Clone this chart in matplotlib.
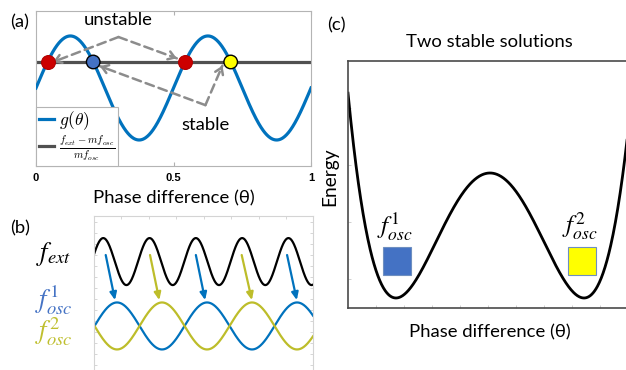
import numpy as np
import matplotlib
matplotlib.use('Agg')
import matplotlib.pyplot as plt
from matplotlib.font_manager import FontProperties
from matplotlib.lines import Line2D

W, H = 626, 370
TXT = ['Lato', 'DejaVu Sans']
plt.rcParams['font.family'] = TXT
FS = 13.3

# ---------------- panel (a) data ----------------
g_amplitude = 1.0
g_cycles = 2                      # periods of g(theta) over [0, 1]
detuning_level = 0.5              # (f_ext - m f_osc) / (m f_osc)
xticks_a = [0, 0.5, 1]
xticklabels_a = ['0', '0.5', '1']
unstable_theta = [0.042, 0.542]
stable_theta = [0.208, 0.708]
stable_colors = ['#4472C4', '#FFFF00']
unstable_color = '#CC0000'
unstable_apex = [0.30, 0.98]
unstable_tips = [[0.062, 0.50], [0.512, 0.57]]
stable_apex = [0.616, -0.33]
stable_tips = [[0.232, 0.42], [0.678, 0.43]]

# ---------------- panel (b) data ----------------
b_xmax = 4.73
ext_period = 1.0
ext_first_peak = 0.20
osc_period = 1.944
osc_first_peak = 0.497
osc_offset = -2.74
arrow_start_x = [0.253, 1.21, 2.20, 3.19, 4.17]
arrow_end_x = [0.454, 1.41, 2.40, 3.41, 4.38]
arrow_start_y = 0.28
arrow_end_y = -1.64
arrow_series = [1, 2, 1, 2, 1]

# ---------------- panel (c) data ----------------
well_position = 1.0
barrier_height = 1.0
energy_u_range = [-1.51, 1.50]
square_u = [-0.99, 0.975]
square_E = [0.296, 0.296]
square_colors = ['#4472C4', '#FFFF00']
square_labels = [r'$f_{osc}^{1}$', r'$f_{osc}^{2}$']

BLUE = '#0072BD'
OLIVE = '#BDBD2A'

fig = plt.figure(figsize=(W / 100, H / 100), dpi=100)


def rect(l, t, r, b):
    return [l / W, 1 - b / H, (r - l) / W, (b - t) / H]


def fpos(x, y):
    return x / W, 1 - y / H

# ================= panel (a) =================
ax = fig.add_axes(rect(36, 11, 311, 166))
theta = np.linspace(0, 1, 600)
g = g_amplitude * np.sin(2 * np.pi * g_cycles * theta)
ax.plot(theta, g, color=BLUE, lw=2.3, zorder=3)
ax.axhline(detuning_level, color='#505050', lw=2.3, zorder=2)
ax.set_xlim(0, 1)
ax.set_ylim(-1.5, 1.48)

gray = '#8c8c8c'
for apex, tips in [(unstable_apex, unstable_tips), (stable_apex, stable_tips)]:
    for tip in tips:
        ax.annotate('', xy=tip, xytext=apex,
                    arrowprops=dict(arrowstyle='-', ls=(0, (3.5, 2)), lw=1.8,
                                    color=gray, shrinkA=0, shrinkB=0), zorder=4)
        back = [tip[0] + 0.06 * (apex[0] - tip[0]), tip[1] + 0.06 * (apex[1] - tip[1])]
        ax.annotate('', xy=tip, xytext=back,
                    arrowprops=dict(arrowstyle='->,head_length=0.45,head_width=0.3',
                                    lw=1.8, color=gray, shrinkA=0, shrinkB=0), zorder=4)

ax.plot(unstable_theta, [detuning_level] * len(unstable_theta), 'o', ms=10,
        color=unstable_color, mec='#B00000', mew=0.8, zorder=5)
ax.scatter(stable_theta, [detuning_level] * len(stable_theta), s=95,
           c=stable_colors, edgecolors='black', linewidths=1.0, zorder=6)

ax.text(0.30, 1.31, 'unstable', ha='center', va='center', fontsize=FS)
ax.text(0.616, -0.72, 'stable', ha='center', va='center', fontsize=FS)

ax.set_xticks(xticks_a)
ax.set_xticklabels(xticklabels_a, fontsize=8, fontweight='bold', family='Liberation Sans')
ax.set_yticks([])
ax.tick_params(axis='x', direction='in', top=True, length=3, color='#b0b0b0', pad=5)
for s in ax.spines.values():
    s.set_color('#b4b4b4')
    s.set_linewidth(0.8)
ax.set_xlabel('Phase difference (θ)', fontsize=FS)
ax.xaxis.set_label_coords(0.5, -0.155)

handles = [Line2D([], [], color=BLUE, lw=2.3), Line2D([], [], color='#505050', lw=2.3)]
leg = ax.legend(handles, [r'$g(\theta)$', r'$\frac{f_{ext}-mf_{osc}}{mf_{osc}}$'],
                loc='lower left', bbox_to_anchor=(0, 0), borderaxespad=0,
                fancybox=False, edgecolor='#b4b4b4', framealpha=1,
                handlelength=0.9, handletextpad=0.3, borderpad=0.15, labelspacing=0.15,
                prop=FontProperties(size=12.5, math_fontfamily='cm'))
leg.get_frame().set_linewidth(0.8)
leg.get_texts()[1].set_fontsize(11)
leg.set_zorder(10)

fig.text(*fpos(10, 22), '(a)', fontsize=FS, va='center', ha='left')

# ================= panel (b) =================
bx = fig.add_axes(rect(94, 216, 313, 380))
t = np.linspace(0, b_xmax, 800)
ext = np.sin(2 * np.pi * (t - ext_first_peak) / ext_period + np.pi / 2)
osc1 = osc_offset + np.sin(2 * np.pi * (t - osc_first_peak) / osc_period + np.pi / 2)
osc2 = osc_offset - np.sin(2 * np.pi * (t - osc_first_peak) / osc_period + np.pi / 2)
bx.plot(t, ext, color='black', lw=1.6)
bx.plot(t, osc1, color=BLUE, lw=1.6)
bx.plot(t, osc2, color=OLIVE, lw=1.6)
for xs, xe, ser in zip(arrow_start_x, arrow_end_x, arrow_series):
    c = BLUE if ser == 1 else OLIVE
    bx.annotate('', xy=(xe, arrow_end_y), xytext=(xs, arrow_start_y),
                arrowprops=dict(arrowstyle='-|>,head_length=0.45,head_width=0.2',
                                lw=1.6, color=c, shrinkA=0, shrinkB=0))
bx.set_xlim(0, b_xmax)
bx.set_ylim(-5.04, 1.94)
bx.set_xticks(np.arange(0.59, b_xmax, 0.594))
bx.set_yticks(np.arange(1.68, -5, -0.468))
bx.set_xticklabels([])
bx.set_yticklabels([])
bx.tick_params(direction='in', top=True, right=True, length=2.5, color='#d0d0d0', width=0.6)
for s in bx.spines.values():
    s.set_color('#d4d4d4')
    s.set_linewidth(0.8)

fig.text(*fpos(10, 228), '(b)', fontsize=FS, va='center', ha='left')
fig.text(*fpos(54, 254), r'$f_{ext}$', fontsize=19, va='center', ha='center',
         math_fontfamily='stix', color='black')
fig.text(*fpos(54, 300), r'$f_{osc}^{1}$', fontsize=19, va='center', ha='center',
         math_fontfamily='stix', color='#4472C4')
fig.text(*fpos(54, 332), r'$f_{osc}^{2}$', fontsize=19, va='center', ha='center',
         math_fontfamily='stix', color='#BFBF2E')

# ================= panel (c) =================
cx = fig.add_axes(rect(348, 61, 630, 308))
u = np.linspace(energy_u_range[0], energy_u_range[1], 600)
E = barrier_height * ((u / well_position) ** 2 - 1) ** 2
cx.plot(u, E, color='black', lw=2.0)
cx.set_xlim(-1.51, 1.489)
cx.set_ylim(-0.08, 1.896)
for uu, ee, col, lab in zip(square_u, square_E, square_colors, square_labels):
    cx.plot([uu], [ee], marker='s', ms=20, color=col, mec='#6E8FC0', mew=0.8)
    cx.text(uu - 0.02, ee + 0.28, lab, ha='center', va='center', fontsize=18,
            math_fontfamily='stix')
cx.set_xticks(np.arange(-1.51 + 0.298, 1.489, 0.298))
cx.set_yticks(np.arange(0.15, 1.896, 0.456))
cx.set_xticklabels([])
cx.set_yticklabels([])
cx.tick_params(direction='in', length=2.5, color='#c8c8c8', width=0.6)
for s in cx.spines.values():
    s.set_color('#4a4a4a')
    s.set_linewidth(1.2)
cx.set_title('Two stable solutions', fontsize=FS, pad=10)
cx.set_xlabel('Phase difference (θ)', fontsize=FS)
cx.xaxis.set_label_coords((490 - 348) / (630 - 348), -0.065)
cx.set_ylabel('Energy', fontsize=FS + 0.5)
cx.yaxis.set_label_coords(-0.035, 0.53)

fig.text(*fpos(327, 25), '(c)', fontsize=FS, va='center', ha='left')

fig.savefig('out.png', dpi=100)
